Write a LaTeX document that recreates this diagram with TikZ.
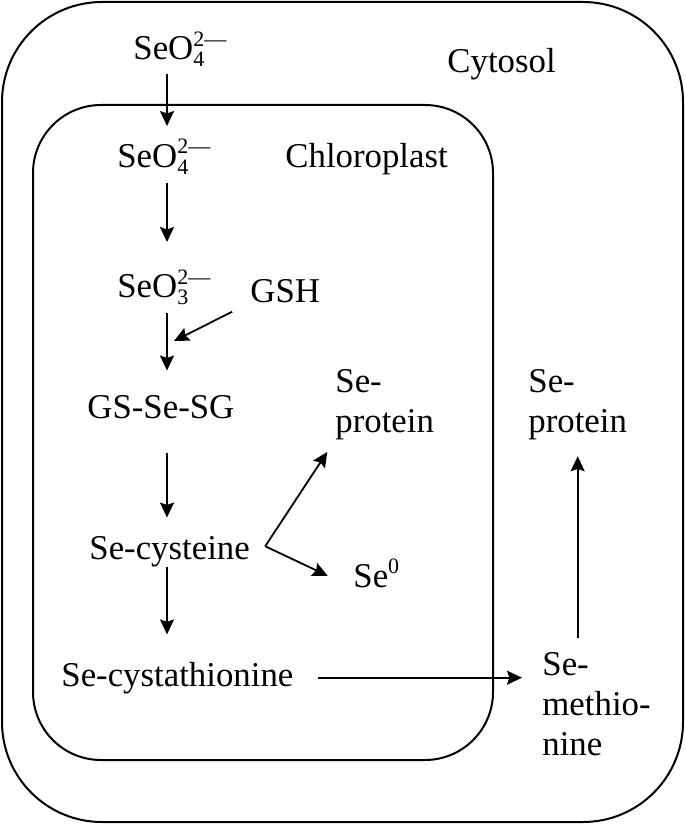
\documentclass[tikz,border=0pt]{standalone}
\usepackage{fontspec}
\setmainfont{Liberation Serif}
\usetikzlibrary{arrows.meta,calc}
\newcommand{\chemfont}{\fontsize{17.4}{20}\selectfont}
\newcommand{\chemsmall}{\fontsize{11}{11}\selectfont}
\newcommand{\chemion}[2]{\makebox[0pt][l]{\raisebox{-3.5pt}{\chemsmall #1}}\raisebox{6.5pt}{\chemsmall #2}}
\newcommand{\chemsup}[1]{\raisebox{7pt}{\chemsmall #1}}

\begin{document}
\begin{tikzpicture}[
  x=0.5pt, y=-0.5pt,
  >={Stealth[length=7.5pt,width=7pt,inset=1.2pt]},
  chem/.style={inner sep=0pt, anchor=base west, font=\chemfont},
  chemblk/.style={chem, anchor=north west, align=left},
  wall/.style={draw, line width=1pt, rounded corners=#1},
  arr/.style={->, line width=0.9pt}
]
  \useasboundingbox (0,0) rectangle (685,824);

  % compartments
  \draw[wall=50pt] (2,2) rectangle (683,822);
  \draw[wall=34pt] (33,105) rectangle (493,760);

  \node[chem] (cytosol) at (447,73) {Cytosol};
  \node[chem] (chloro) at (285,167) {Chloroplast};

  \node[chem] (so4out) at (133,60) {SeO\chemion{4}{2---}};
  \node[chem] (so4in) at (117,167) {SeO\chemion{4}{2---}};
  \node[chem] (so3) at (117,297) {SeO\chemion{3}{2---}};
  \node[chem] (gsh) at (250,302) {GSH};
  \node[chem] (gsg) at (87,418) {GS-Se-SG};
  \node[chem] (cys) at (89,559) {Se-cysteine};
  \node[chemblk] (protin) at (335,369) {Se-\\protein};
  \node[chem] (sezero) at (353,587) {Se\chemsup{0}};
  \node[chem] (cysta) at (61,686) {Se-cystathionine};
  \node[chemblk] (protout) at (528,369) {Se-\\protein};
  \node[chemblk] (semet) at (542,652) {Se-\\methio-\\nine};

  \coordinate (col) at (167,0);
  \coordinate (gshin) at (174,341);
  \coordinate (fork) at ($(cys.east)+(15,-5)$);

  \draw[arr, shorten <=3.5pt, shorten >=6.5pt] (so4out.south -| col) -- (so4in.north -| col);
  \draw[arr, shorten <=4.5pt, shorten >=13.5pt] (so4in.south -| col) -- (so3.north -| col);
  \draw[arr, shorten <=4pt, shorten >=12pt] (so3.south -| col) -- (gsg.north -| col);
  \draw[arr, shorten <=10pt] (gsh.south west) -- (gshin);
  \draw[arr, shorten <=17pt, shorten >=9pt] (gsg.south -| col) -- (cys.north -| col);
  \draw[arr, shorten >=13.5pt] (cys.south -| col) -- (cysta.north -| col);
  \draw[arr, shorten >=7pt] (fork) -- (protin.south west);
  \draw[arr, shorten >=14pt] (fork) -- (sezero.south west);
  \draw[arr, shorten <=12pt, shorten >=10pt] (cysta.east) -- (cysta.east -| semet.west);
  \draw[arr, shorten <=7pt, shorten >=8pt] (protout.south |- semet.north) -- (protout.south);
\end{tikzpicture}
\end{document}
